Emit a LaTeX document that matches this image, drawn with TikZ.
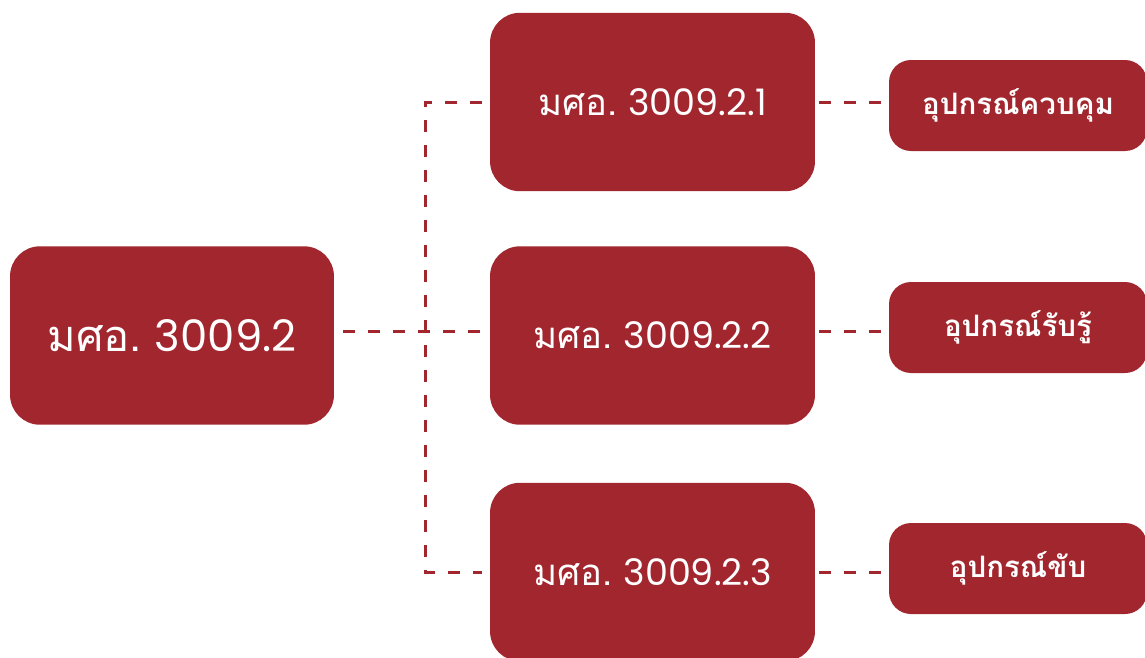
\documentclass[tikz,border=0pt]{standalone}
\usepackage{fontspec}
\newfontfamily\thaifont[Script=Thai]{Loma}
\newfontfamily\numfont{Poppins}
\definecolor{boxred}{HTML}{A2262E}
\newcommand{\mso}[1]{{\thaifont มศอ.}\ {\numfont #1}}
\tikzset{
  bigbox/.style={fill=boxred, text=white, rounded corners=0.6cm, inner sep=0pt,
    minimum width=6.5cm, minimum height=3.57cm},
  smallbox/.style={fill=boxred, text=white, rounded corners=0.44cm, inner sep=0pt,
    minimum width=5.16cm, minimum height=1.82cm, font=\thaifont\bfseries\fontsize{16.8}{19}\selectfont},
  dashline/.style={draw=boxred, line width=1.7pt, dash pattern=on 0.24cm off 0.26cm}
}
\begin{document}
\begin{tikzpicture}[x=0.02cm, y=-0.02cm]
    \useasboundingbox (0,0) rectangle (1145,657);
    \clip (0,0) rectangle (1145,657);
    % main unit
    \node [bigbox, minimum width=6.48cm, font=\fontsize{24.7}{28}\selectfont] (main) at (172,335.5) {\mso{3009.2}};
    % sub units
    \node [bigbox, font=\fontsize{20.8}{24}\selectfont] (sub1) at (652.5,102) {\mso{3009.2.1}};
    \node [bigbox, font=\fontsize{20.8}{24}\selectfont] (sub2) at (652.5,335.5) {\mso{3009.2.2}};
    \node [bigbox, font=\fontsize{20.8}{24}\selectfont] (sub3) at (652.5,572) {\mso{3009.2.3}};
    % devices
    \node [smallbox] (dev1) at (1018,105.5) {อุปกรณ์ควบคุม};
    \node [smallbox] (dev2) at (1018,327.5) {อุปกรณ์รับรู้};
    \node [smallbox] (dev3) at (1018,568.5) {อุปกรณ์ขับ};
    % connectors
    \coordinate (bus) at (425,331);
    \draw [dashline, shorten <=0.18cm, shorten >=0.16cm] (main.east |- bus) -- (sub2.west |- bus);
    \draw [dashline, shorten <=0.16cm, shorten >=0.16cm] (sub1.west) -| (bus) |- (sub3.west);
    \draw [dashline, shorten <=0.08cm, shorten >=0.14cm] (sub1.east) -- (sub1.east -| dev1.west);
    \draw [dashline, shorten <=0.08cm, shorten >=0.14cm] (sub2.east |- bus) -- (bus -| dev2.west);
    \draw [dashline, shorten <=0.08cm, shorten >=0.14cm] (sub3.east) -- (sub3.east -| dev3.west);
\end{tikzpicture}
\end{document}
